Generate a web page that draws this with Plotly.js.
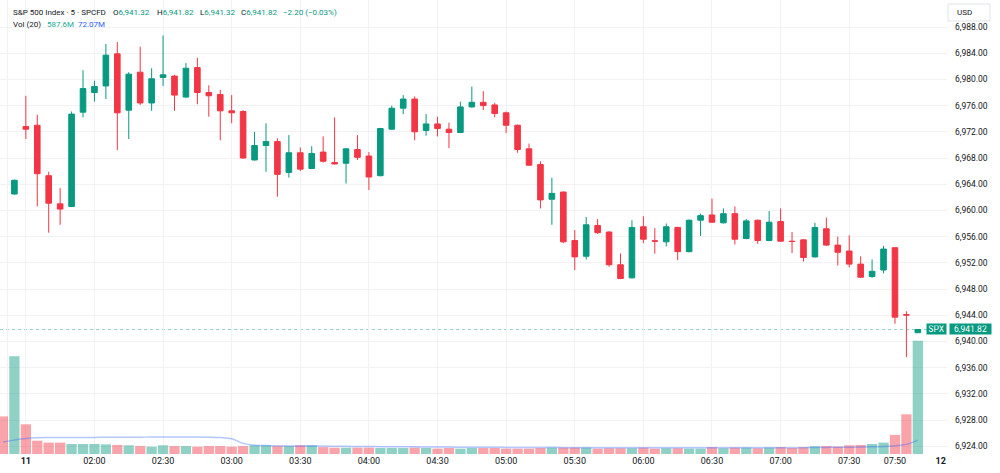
<!DOCTYPE html>
<html><head><meta charset="utf-8">
<script src="https://cdn.plot.ly/plotly-3.0.1.min.js"></script>
<style>html,body{margin:0;padding:0;background:#fff}#chart{width:1000px;height:473px}</style>
</head><body><div id="chart"></div>
<script>
// ---- data ----
const barIndex = Array.from({length: 81}, (_, i) => i);
const opens = [null,
 6962.5, 6972.8, 6973.0, 6965.3, 6961.0, 6960.6, 6975.0, 6978.0, 6979.0, 6983.9,
 6975.3, 6981.1, 6976.4, 6980.3, 6980.5, 6977.3, 6981.8, 6978.0, 6977.7, 6975.2,
 6975.1, 6967.7, 6969.9, 6970.5, 6965.8, 6968.8, 6966.4, 6968.9, 6967.3, 6967.2,
 6969.3, 6968.3, 6965.3, 6972.4, 6975.6, 6977.0, 6972.2, 6973.2, 6972.4, 6971.9,
 6975.8, 6976.5, 6976.1, 6974.9, 6973.0, 6969.4, 6967.0, 6961.7, 6962.8, 6955.4,
 6953.0, 6957.7, 6956.7, 6951.7, 6949.7, 6957.5, 6955.35, 6955.2, 6957.4, 6953.7,
 6958.5, 6959.3, 6958.1, 6959.5, 6955.7, 6958.5, 6955.4, 6958.3, 6955.3, 6955.5,
 6952.9, 6957.2, 6954.7, 6953.8, 6951.8, 6949.9, 6950.9, 6954.3, 6944.1, 6941.32];
const highs = [null,
 6964.7, 6977.5, 6974.6, 6965.9, 6963.4, 6975.1, 6981.4, 6979.8, 6985.4, 6985.7,
 6981.1, 6985.0, 6981.7, 6986.7, 6980.7, 6982.5, 6983.3, 6979.1, 6978.4, 6977.6,
 6975.3, 6972.0, 6973.3, 6971.0, 6971.5, 6969.6, 6969.8, 6971.3, 6974.2, 6969.5,
 6971.5, 6968.9, 6972.6, 6976.0, 6977.6, 6977.4, 6974.7, 6974.3, 6973.4, 6976.6,
 6978.9, 6978.2, 6976.4, 6975.1, 6973.1, 6970.2, 6967.5, 6965.0, 6962.9, 6957.0,
 6959.0, 6958.7, 6956.8, 6953.4, 6958.5, 6959.1, 6957.3, 6958.0, 6957.5, 6958.6,
 6959.5, 6961.8, 6960.3, 6960.6, 6958.7, 6958.6, 6959.9, 6960.3, 6956.7, 6955.6,
 6958.1, 6958.9, 6956.0, 6956.2, 6953.0, 6952.5, 6954.6, 6954.4, 6944.6, 6941.82];
const lows = [null,
 6962.4, 6970.9, 6960.6, 6956.6, 6957.8, 6960.5, 6974.2, 6976.6, 6977.0, 6969.2,
 6970.9, 6976.1, 6975.2, 6979.0, 6975.2, 6977.2, 6976.2, 6974.3, 6970.7, 6973.3,
 6967.9, 6967.6, 6965.9, 6962.1, 6965.0, 6966.0, 6966.3, 6967.3, 6967.0, 6964.1,
 6967.7, 6963.1, 6965.2, 6972.3, 6974.7, 6970.7, 6971.4, 6971.3, 6969.5, 6971.8,
 6975.7, 6975.3, 6974.2, 6971.8, 6968.8, 6966.8, 6960.3, 6957.8, 6955.0, 6950.9,
 6952.5, 6956.4, 6951.4, 6949.5, 6949.6, 6955.0, 6953.4, 6954.5, 6952.4, 6953.6,
 6956.1, 6958.1, 6958.0, 6954.8, 6955.6, 6954.9, 6955.3, 6955.2, 6953.5, 6952.2,
 6952.8, 6954.6, 6951.6, 6951.3, 6949.7, 6949.7, 6950.4, 6942.7, 6937.6, 6941.32];
const closes = [null,
 6964.6, 6972.4, 6965.6, 6961.1, 6960.2, 6974.7, 6978.6, 6978.9, 6983.7, 6974.9,
 6980.8, 6976.4, 6980.1, 6980.7, 6977.6, 6981.7, 6978.0, 6977.5, 6975.2, 6974.9,
 6968.0, 6969.9, 6970.5, 6965.5, 6968.8, 6966.3, 6968.7, 6967.5, 6967.1, 6969.4,
 6968.1, 6965.1, 6972.5, 6975.6, 6977.0, 6972.0, 6973.2, 6972.5, 6971.9, 6975.8,
 6976.5, 6976.0, 6974.8, 6973.0, 6969.3, 6966.9, 6961.6, 6962.6, 6955.2, 6952.9,
 6957.8, 6956.6, 6951.7, 6949.6, 6957.4, 6955.6, 6955.3, 6957.5, 6953.7, 6958.5,
 6959.2, 6958.2, 6959.5, 6955.6, 6958.4, 6955.4, 6958.2, 6955.3, 6955.25, 6952.8,
 6957.4, 6954.7, 6953.6, 6951.8, 6949.8, 6950.7, 6954.1, 6943.7, 6944.02, 6941.82];
// volume in millions
const volumes = [
 195, 507, 154, 69, 59, 59, 52, 52, 52, 50,
 47, 45, 41, 38, 45, 41, 41, 38, 41, 41,
 38, 41, 45, 45, 41, 41, 45, 45, 36, 33,
 33, 33, 33, 31, 31, 31, 33, 31, 28, 31,
 28, 31, 31, 31, 28, 28, 28, 31, 33, 33,
 33, 33, 28, 30, 30, 30, 33, 28, 30, 30,
 28, 28, 35, 30, 33, 33, 30, 33, 35, 31,
 35, 40, 41, 38, 45, 47, 52, 59, 99, 206, 587.6];
const firstBarDown = true; // bar 0: its candle lies off-screen, volume bar is red
// Vol (20) moving-average line (millions)
const volMA = [
 62, 72, 80, 84, 85, 85, 86, 86, 86, 87,
 87, 87, 87, 88, 88, 88, 88, 88, 87, 85,
 79, 55, 46, 44, 43, 42, 42, 41, 41, 40,
 40, 39, 39, 38, 38, 37, 37, 36, 36, 36,
 35, 35, 35, 35, 34, 34, 34, 34, 34, 33,
 33, 33, 33, 33, 33, 33, 33, 33, 33, 33,
 33, 33, 33, 33, 33, 33, 33, 33, 33, 33,
 33, 34, 34, 35, 35, 36, 37, 39, 43, 50, 72.07];
const tickIdx  = [2, 8, 14, 20, 26, 32, 38, 44, 50, 56, 62, 68, 74, 78, 82];
const tickText = ['<b>11</b>', '02:00', '02:30', '03:00', '03:30', '04:00', '04:30', '05:00', '05:30', '06:00', '06:30', '07:00', '07:30', '07:50', '<b>12</b>'];
const gridIdx  = [0.38, 2, 8, 14, 20, 26, 32, 38, 44, 50, 56, 62, 68, 74];
const priceTicks = [6924, 6928, 6932, 6936, 6940, 6944, 6948, 6952, 6956, 6960, 6964, 6968, 6972, 6976, 6980, 6984, 6988];

// ---- style ----
const UP = '#089981', DN = '#F23645';
const UPV = 'rgba(8,153,129,0.45)', DNV = 'rgba(242,54,69,0.45)';
const GRID = '#f1f2f4';
const TXT = '#131722';
const FONT = 'Roboto, "Liberation Sans", sans-serif';
const PW = 947, PH = 454;
const px = x => x / PW, py = y => 1 - y / PH;

const cx = [], co = [], ch = [], cl = [], cc = [];
barIndex.forEach(i => { if (opens[i] != null) { cx.push(i); co.push(opens[i]); ch.push(highs[i]); cl.push(lows[i]); cc.push(closes[i]); } });
const volColors = barIndex.map(i => {
  if (closes[i] == null) return firstBarDown ? DNV : UPV;
  return closes[i] >= opens[i] ? UPV : DNV;
});

const n = barIndex.length - 1;
const last = closes[n];
const chg = closes[n] - closes[n - 1];
const pct = chg / closes[n - 1] * 100;
const fmt = v => v.toLocaleString('en-US', {minimumFractionDigits: 2, maximumFractionDigits: 2});
const sgn = v => (v < 0 ? '\u2212' : '+') + Math.abs(v).toFixed(2);
const lastCol = closes[n] >= opens[n] ? UP : DN;
const fmtVol = v => (v >= 100 ? v.toFixed(1) : v.toFixed(2)) + 'M';
const colored = (t, c) => '<span style="color:' + c + '">' + t + '</span>';

// header pieces: [text, left x in px, line y in px]
const headerParts = [
  ['S&P 500 Index · 5 · SPCFD', 12, 12.5],
  ['O' + colored(fmt(opens[n]), lastCol), 112, 12.5],
  ['H' + colored(fmt(highs[n]), lastCol), 156, 12.5],
  ['L' + colored(fmt(lows[n]), lastCol), 199, 12.5],
  ['C' + colored(fmt(closes[n]), lastCol), 240, 12.5],
  [colored(sgn(chg) + ' (' + sgn(pct) + '%)', lastCol), 282, 12.5],
  ['Vol (20)', 12, 24.5],
  [colored(fmtVol(volumes[n]), '#22ab94'), 46, 24.5],
  [colored(fmtVol(volMA[n]), '#2962ff'), 77, 24.5]
];

const traces = [
  {type: 'bar', x: barIndex, y: volumes, yaxis: 'y', xaxis: 'x',
   marker: {color: volColors, line: {width: 0}}, hoverinfo: 'skip', showlegend: false},
  {type: 'scatter', mode: 'lines', x: barIndex, y: volMA, yaxis: 'y', xaxis: 'x',
   line: {color: 'rgba(41,98,255,0.35)', width: 1.5, shape: 'spline'}, hoverinfo: 'skip', showlegend: false},
  {type: 'candlestick', x: cx, open: co, high: ch, low: cl, close: cc, xaxis: 'x', yaxis: 'y2',
   increasing: {line: {color: UP, width: 1}, fillcolor: UP},
   decreasing: {line: {color: DN, width: 1}, fillcolor: DN},
   whiskerwidth: 0, hoverinfo: 'skip', showlegend: false}
];

const annotations = headerParts.map(([t, x, y]) => ({
  xref: 'paper', yref: 'paper', x: px(x), y: py(y), xanchor: 'left', yanchor: 'middle',
  text: t, showarrow: false, font: {size: 8, color: TXT}, xshift: -1
}));
annotations.push(
  {xref: 'paper', yref: 'paper', x: px(955), y: py(12.5), xanchor: 'left', yanchor: 'middle',
   text: 'USD', showarrow: false, font: {size: 8, color: TXT}},
  {xref: 'paper', yref: 'y2', x: 1, y: last, xanchor: 'right', yanchor: 'middle',
   text: 'SPX', showarrow: false, font: {size: 8.5, color: '#ffffff'},
   bgcolor: UP, width: 16, height: 7, borderpad: 1.5},
  {xref: 'paper', yref: 'y2', x: px(948.5), y: last, xanchor: 'left', yanchor: 'middle',
   text: fmt(last), showarrow: false, font: {size: 8.5, color: '#ffffff'},
   bgcolor: UP, width: 38, height: 7, borderpad: 1.5}
);

const layout = {
  width: 1000, height: 473,
  margin: {l: 0, r: 53, t: 0, b: 19, pad: 0},
  paper_bgcolor: '#ffffff', plot_bgcolor: '#ffffff',
  font: {family: FONT, size: 9, color: TXT},
  showlegend: false, bargap: 0.1, boxgap: 0.3,
  xaxis: {range: [-0.259, 82.55], tickmode: 'array', tickvals: tickIdx, ticktext: tickText,
    showgrid: false, zeroline: false, showline: false, ticks: '',
    tickfont: {size: 9, color: TXT}, rangeslider: {visible: false}, fixedrange: true,
    minor: {tickmode: 'array', tickvals: gridIdx, showgrid: true, gridcolor: GRID, gridwidth: 1, ticks: ''}},
  yaxis: {range: [0, PH * 5.186], visible: false, showgrid: false, zeroline: false, fixedrange: true},
  yaxis2: {overlaying: 'y', side: 'right', range: [6922.809, 6992.122],
    tickmode: 'array', tickvals: priceTicks, tickformat: ',.2f',
    showgrid: true, gridcolor: GRID, gridwidth: 1, zeroline: false, showline: false, ticks: '',
    ticklabelstandoff: 7, tickfont: {size: 8.5, color: TXT}, fixedrange: true},
  shapes: [
    {type: 'line', xref: 'paper', x0: 0, x1: 1, yref: 'y2', y0: last, y1: last,
     line: {color: 'rgba(8,153,129,0.45)', width: 1, dash: 'dot'}, layer: 'below'},
    {type: 'rect', xref: 'paper', yref: 'paper', x0: px(948), x1: px(990), y0: py(21), y1: py(4),
     line: {color: '#e0e3eb', width: 1}, fillcolor: '#ffffff'}
  ],
  annotations: annotations
};

Plotly.newPlot('chart', traces, layout, {displayModeBar: false, staticPlot: true});
</script></body></html>
